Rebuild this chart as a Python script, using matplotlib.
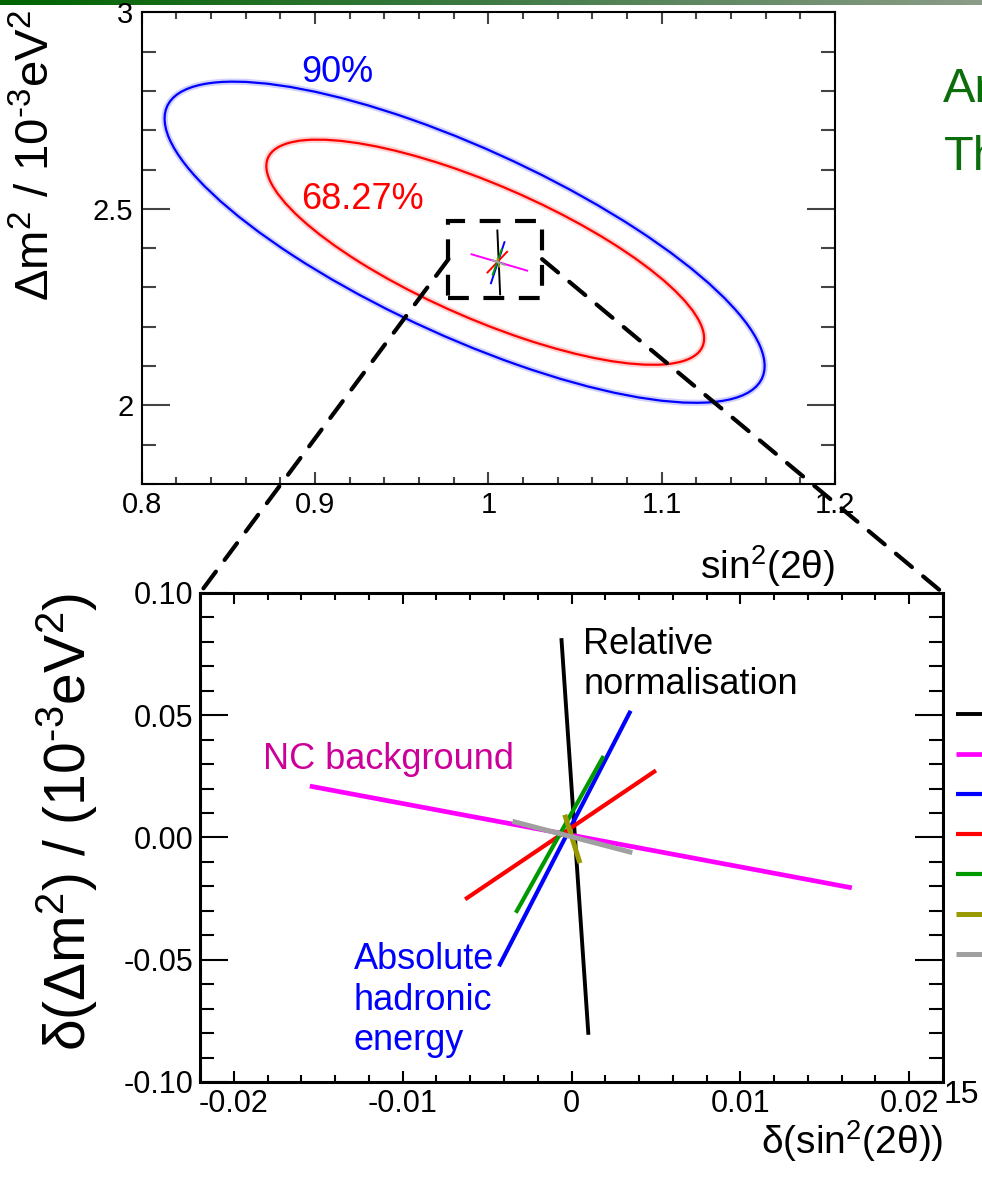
import numpy as np
import matplotlib
matplotlib.use('Agg')
import matplotlib.pyplot as plt
from matplotlib.patches import Ellipse, Rectangle, ConnectionPatch
from matplotlib.ticker import MultipleLocator
from matplotlib.colors import LinearSegmentedColormap

plt.rcParams['font.family'] = ['Liberation Sans', 'DejaVu Sans']
plt.rcParams['mathtext.fontset'] = 'custom'
plt.rcParams['mathtext.rm'] = 'Liberation Sans'
plt.rcParams['mathtext.it'] = 'Liberation Sans:italic'
plt.rcParams['mathtext.default'] = 'regular'
plt.rcParams['axes.unicode_minus'] = False

# ---- top panel: allowed regions around the best fit ----
best_fit = [1.0058, 2.3633]
contour_labels = ['68.27%', '90%']
contour_colors = ['#ff0000', '#0000ff']
contour_cx = [0.9982, 0.9863]
contour_cy = [2.3896, 2.4150]
contour_sx = [0.1263, 0.1731]
contour_sy = [0.2864, 0.4085]
contour_rho = [-0.765, -0.770]
contour_label_x = [0.892, 0.892]
contour_label_y = [2.500, 2.822]

top_xlim = (0.8, 1.2)
top_ylim = (1.8, 3.0)
top_xticks = [0.8, 0.9, 1.0, 1.1, 1.2]
top_xticklabels = ['0.8', '0.9', '1', '1.1', '1.2']
top_yticks = [2.0, 2.5, 3.0]
top_yticklabels = ['2', '2.5', '3']

# zoom box drawn around the best fit
box_x = [0.977, 1.031]
box_y = [2.274, 2.470]

# ---- bottom panel: best fit shift for each systematic ----
syst_colors = ['#000000', '#ff00ff', '#0000ff', '#ff0000', '#009900',
               '#999900', '#a0a0a0']
syst_x1 = [-0.0006, -0.0155, -0.0043, -0.0063, -0.0033, -0.0004, -0.0035]
syst_y1 = [0.0815, 0.0210, -0.0527, -0.0253, -0.0308, 0.0093, 0.0066]
syst_x2 = [0.0010, 0.0166, 0.0035, 0.0050, 0.0019, 0.0005, 0.0036]
syst_y2 = [-0.0807, -0.0206, 0.0518, 0.0274, 0.0333, -0.0105, -0.0062]
syst_lw = [2.8, 3.4, 3.0, 3.0, 3.0, 3.6, 3.6]

notes = ['Relative\nnormalisation', 'NC background',
         'Absolute\nhadronic\nenergy']
note_colors = ['#000000', '#cc0099', '#0000ff']
note_x = [0.0007, -0.0183, -0.0129]
note_y = [0.0587, 0.0280, -0.0870]   # baseline of the last line

bot_xlim = (-0.022, 0.022)
bot_ylim = (-0.10, 0.10)
bot_xticks = [-0.02, -0.01, 0.0, 0.01, 0.02]
bot_xticklabels = ['-0.02', '-0.01', '0', '0.01', '0.02']
bot_yticks = [-0.10, -0.05, 0.0, 0.05, 0.10]
bot_yticklabels = ['-0.10', '-0.05', '0.00', '0.05', '0.10']

dash = (0, (5, 3.5))

fig = plt.figure(figsize=(9.82, 11.79), dpi=100)

# slide header bar
bar = fig.add_axes([0, 1 - 5 / 1179, 1, 5 / 1179])
bar_cmap = LinearSegmentedColormap.from_list('bar', ['#006400', '#3f7a45', '#8c9c88'])
bar.imshow(np.linspace(0, 1, 256)[None, :], aspect='auto', cmap=bar_cmap)
bar.axis('off')

ax_top = fig.add_axes([0.1443, 0.5895, 0.7060, 0.4001])
ax_bot = fig.add_axes([0.2037, 0.0823, 0.7566, 0.4148])

# contours
for lab, col, cx, cy, sx, sy, rho, tx, ty in zip(
        contour_labels, contour_colors, contour_cx, contour_cy, contour_sx,
        contour_sy, contour_rho, contour_label_x, contour_label_y):
    cov = np.array([[sx ** 2, rho * sx * sy], [rho * sx * sy, sy ** 2]])
    vals, vecs = np.linalg.eigh(cov)
    angle = np.degrees(np.arctan2(vecs[1, 0], vecs[0, 0]))
    w, h = 2 * np.sqrt(vals)
    ax_top.add_patch(Ellipse((cx, cy), w, h, angle=angle, fill=False,
                             ec=col, lw=4.5, alpha=0.18))
    ax_top.add_patch(Ellipse((cx, cy), w, h, angle=angle, fill=False,
                             ec=col, lw=1.6))
    ax_top.text(tx, ty, lab, color=col, fontsize=26, va='baseline')

# small version of the systematic shifts at the best fit
for col, x1, y1, x2, y2 in zip(syst_colors, syst_x1, syst_y1, syst_x2, syst_y2):
    ax_top.plot([best_fit[0] + x1, best_fit[0] + x2],
                [best_fit[1] + y1, best_fit[1] + y2], color=col, lw=1.4)

ax_top.add_patch(Rectangle((box_x[0], box_y[0]), box_x[1] - box_x[0],
                           box_y[1] - box_y[0], fill=False, ec='k', lw=3,
                           ls=dash))

ax_top.set_xlim(*top_xlim)
ax_top.set_ylim(*top_ylim)
ax_top.set_xticks(top_xticks, top_xticklabels)
ax_top.set_yticks(top_yticks, top_yticklabels)
ax_top.xaxis.set_minor_locator(MultipleLocator(0.02))
ax_top.yaxis.set_minor_locator(MultipleLocator(0.1))
ax_top.tick_params(which='both', direction='in', top=True, right=True,
                   color='#444444', width=1.5)
ax_top.tick_params(axis='y', which='major', length=20, pad=6, labelsize=21)
ax_top.tick_params(axis='y', which='minor', length=10)
ax_top.tick_params(axis='x', which='major', length=8.5, pad=5, labelsize=21)
ax_top.tick_params(axis='x', which='minor', length=5)
for sp in ax_top.spines.values():
    sp.set_linewidth(1.5)
ax_top.set_xlabel('sin$^2$(2θ)', fontsize=28, loc='right')
ax_top.xaxis.set_label_coords(1.0, -0.125)
ax_top.set_ylabel('Δm$^2$ / 10$^{\\text{-}3}$eV$^2$', fontsize=34, loc='top')
ax_top.yaxis.set_label_coords(-0.118, 1.005)

# bottom panel
lines = []
for col, x1, y1, x2, y2, lw in zip(syst_colors, syst_x1, syst_y1, syst_x2,
                                   syst_y2, syst_lw):
    ln, = ax_bot.plot([x1, x2], [y1, y2], color=col, lw=lw,
                      solid_capstyle='butt')
    lines.append(ln)

for txt, col, x, y in zip(notes, note_colors, note_x, note_y):
    ax_bot.text(x, y, txt, color=col, fontsize=26, va='baseline',
                linespacing=1.2)

ax_bot.set_xlim(*bot_xlim)
ax_bot.set_ylim(*bot_ylim)
ax_bot.set_xticks(bot_xticks, bot_xticklabels)
ax_bot.set_yticks(bot_yticks, bot_yticklabels)
ax_bot.xaxis.set_minor_locator(MultipleLocator(0.002))
ax_bot.yaxis.set_minor_locator(MultipleLocator(0.01))
ax_bot.tick_params(which='both', direction='in', top=True, right=True,
                   color='k', width=1.5)
ax_bot.tick_params(axis='y', which='major', length=20, pad=5, labelsize=22)
ax_bot.tick_params(axis='y', which='minor', length=10)
ax_bot.tick_params(axis='x', which='major', length=8, pad=5, labelsize=22)
ax_bot.tick_params(axis='x', which='minor', length=5)
for sp in ax_bot.spines.values():
    sp.set_linewidth(2.2)
ax_bot.set_xlabel('δ(sin$^2$(2θ))', fontsize=28, loc='right')
ax_bot.xaxis.set_label_coords(1.0, -0.074)
ax_bot.set_ylabel('δ(Δm$^2$) / (10$^{\\text{-}3}$eV$^2$)', fontsize=41,
                  loc='top')
ax_bot.yaxis.set_label_coords(-0.135, 1.0)

# dashed lines joining the zoom box to the lower panel
box_mid = (box_y[0] + box_y[1]) / 2
for bx, cx in [(box_x[0], bot_xlim[0]), (box_x[1], bot_xlim[1])]:
    con = ConnectionPatch(xyA=(bx, box_mid), coordsA=ax_top.transData,
                          xyB=(cx, bot_ylim[1]), coordsB=ax_bot.transData,
                          color='k', lw=3, ls=dash)
    fig.add_artist(con)

# legend, cut by the slide edge
fig.legend(lines, [' '] * len(lines), loc='upper left',
           bbox_to_anchor=(956 / 982, 1 - 704 / 1179), frameon=False,
           borderpad=0, borderaxespad=0, handlelength=2, handletextpad=0.5,
           fontsize=20, labelspacing=0.5)

# slide text cut at the right edge
fig.text(943 / 982, 1 - 102 / 1179, 'An', color='#0b6e0b', fontsize=35,
         va='baseline')
fig.text(944 / 982, 1 - 170 / 1179, 'Th', color='#0b6e0b', fontsize=35,
         va='baseline')
fig.text(944 / 982, 1 - 1103 / 1179, '15', color='k', fontsize=23,
         va='baseline')

fig.savefig('out.png', dpi=100)
